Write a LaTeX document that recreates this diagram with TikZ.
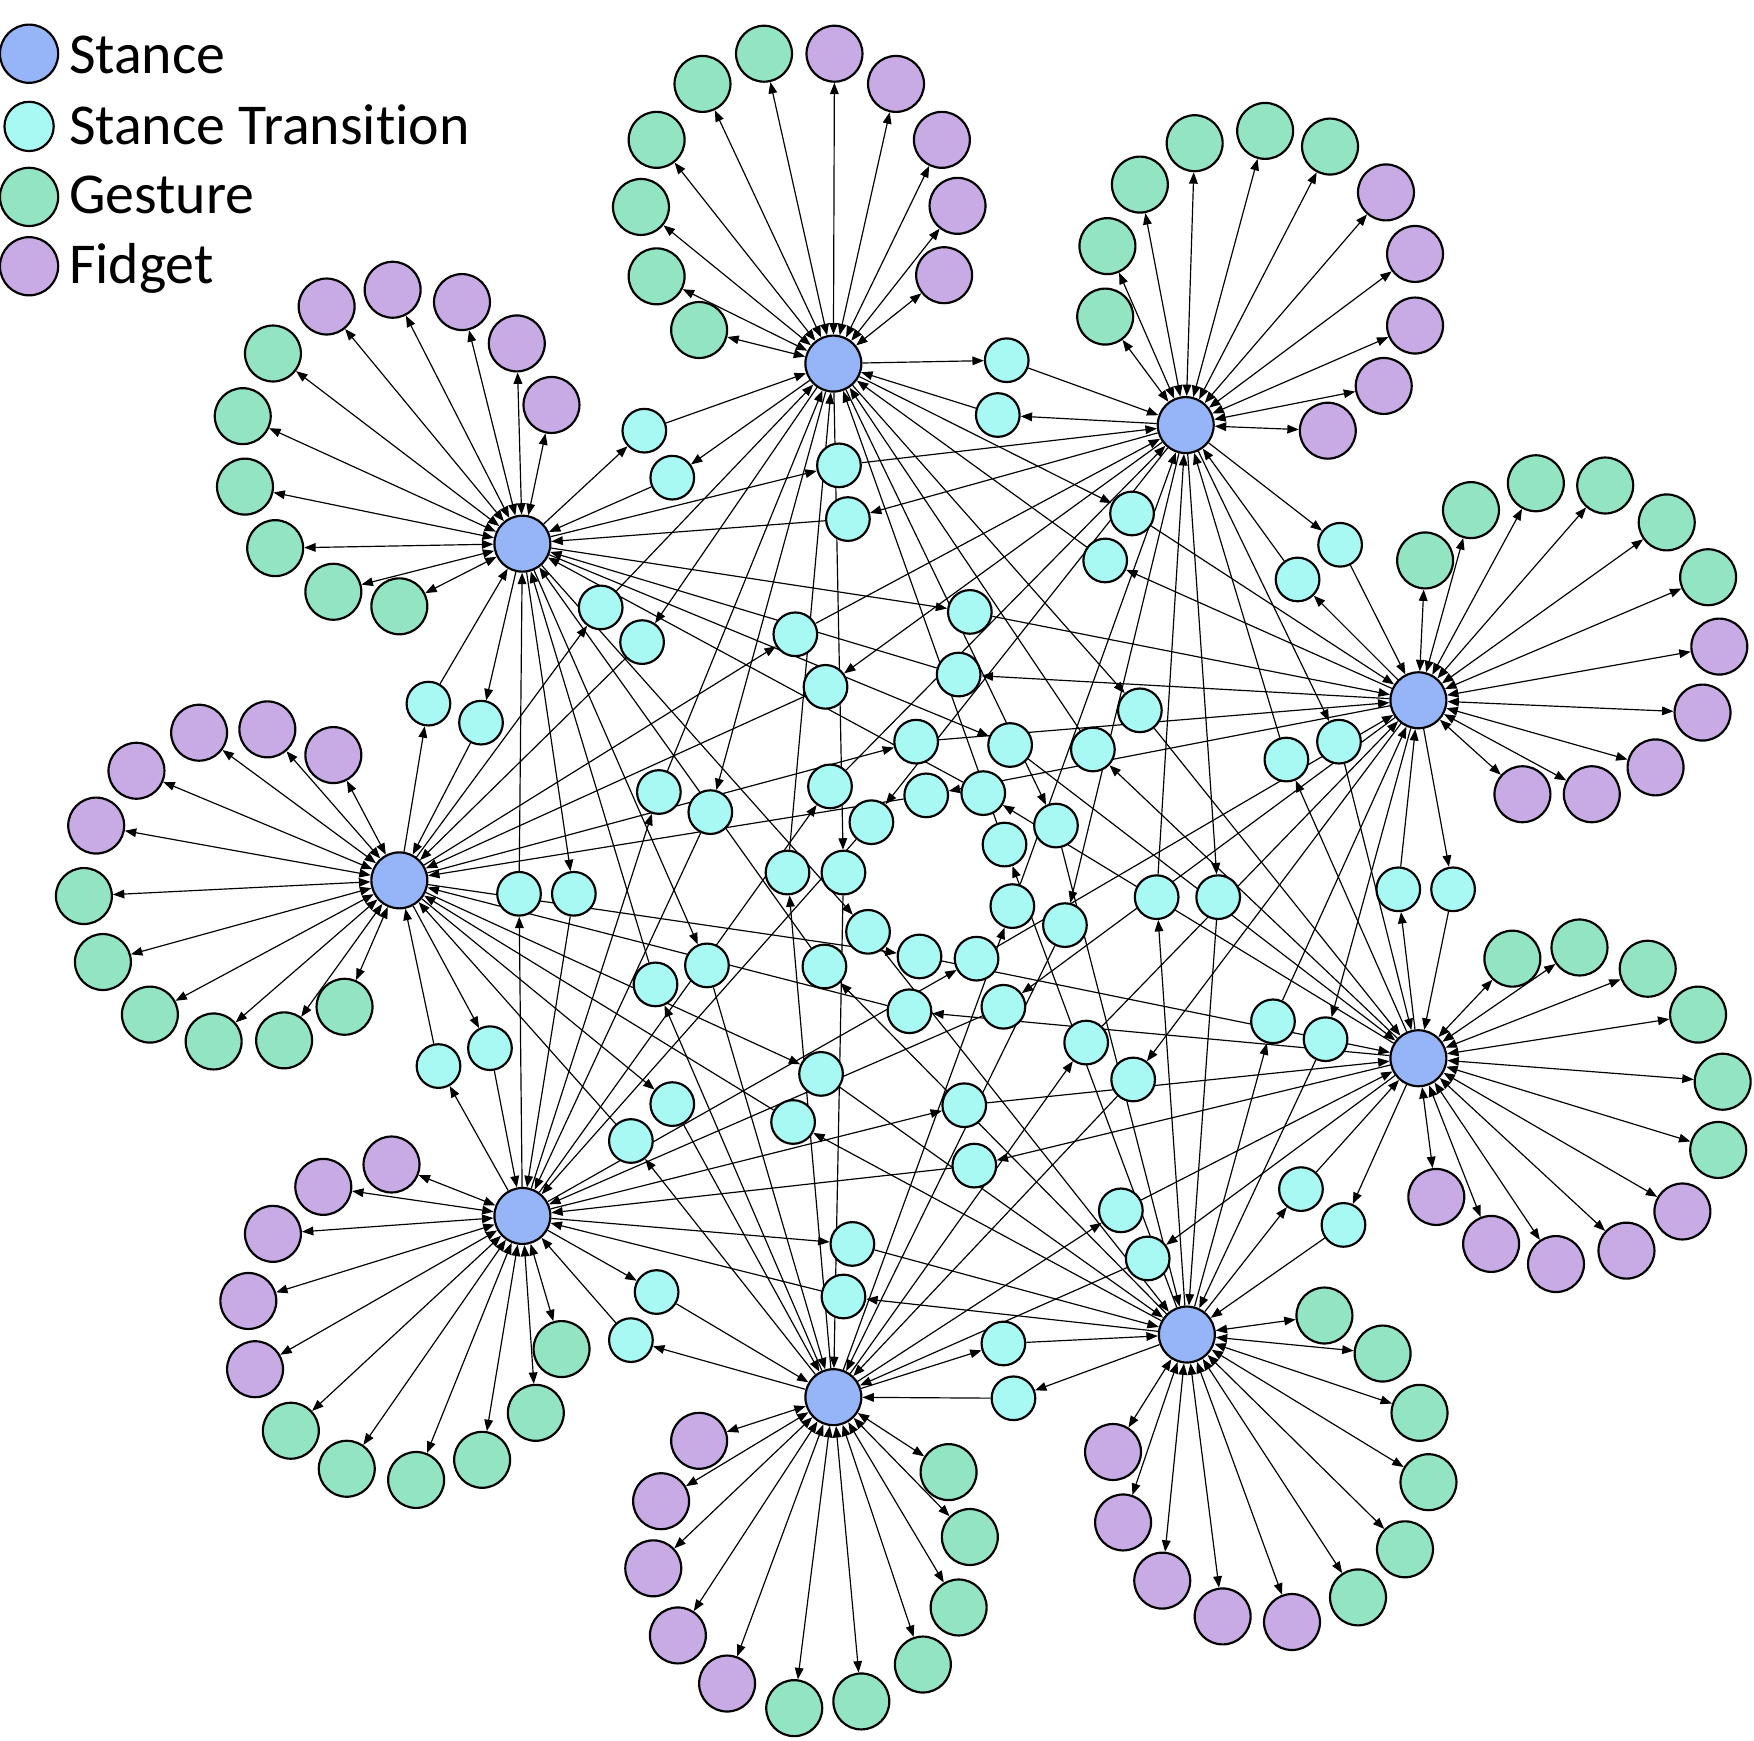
\documentclass[tikz,border=0pt]{standalone}
\usepackage{fontspec}
\setmainfont{Carlito}[Ligatures=NoCommon]
\usetikzlibrary{arrows.meta}
\definecolor{stanceblue}{HTML}{96B4F8}
\definecolor{transcyan}{HTML}{A8F8F3}
\definecolor{gesturegreen}{HTML}{92E4C2}
\definecolor{fidgetpurple}{HTML}{C8ABE5}
\pgfdeclarelayer{edgelayer}
\pgfsetlayers{edgelayer,main}
\tikzset{
stancevertex/.style={circle, draw=black!100,fill=stanceblue,line width=0.55pt, inner sep=0pt, minimum size= 5mm},
transvertex/.style={circle, draw=black!100,fill=transcyan,line width=0.55pt, inner sep=0pt, minimum size= 3.9mm},
gesturevertex/.style={circle, draw=black!100,fill=gesturegreen,line width=0.55pt, inner sep=0pt, minimum size= 5mm},
fidgetvertex/.style={circle, draw=black!100,fill=fidgetpurple,line width=0.55pt, inner sep=0pt, minimum size= 5mm},
leafedge/.style={line width=0.3pt, {Triangle[length=2.9pt,width=2.2pt]}-{Triangle[length=2.9pt,width=2.2pt]}},
transedge/.style={line width=0.3pt, -{Triangle[length=2.9pt,width=2.2pt]}},
legendtext/.style={anchor=base west, inner sep=0pt, font=\fontsize{14.7}{18}\selectfont},
}

\begin{document}
\begin{tikzpicture}[x=0.01cm,y=-0.01cm]
    \useasboundingbox (0,0) rectangle (1568,1556);
    % legend
    \node[stancevertex, minimum size=5.2mm] (legstance) at (26,48) {};
    \node[transvertex, minimum size=4.4mm] (legtrans) at (26,113) {};
    \node[gesturevertex, minimum size=5.2mm] (leggesture) at (26,176) {};
    \node[fidgetvertex, minimum size=5.2mm] (legfidget) at (26,238) {};
    \node[legendtext] (legstancetext) at (61,66) {Stance};
    \node[legendtext] (legtranstext) at (61,129) {Stance Transition};
    \node[legendtext] (leggesturetext) at (61,191) {Gesture};
    \node[legendtext] (legfidgettext) at (61,253) {Fidget};
    % stances
    \node[stancevertex] at (745,325) (A) {};
    \node[stancevertex] at (1060,380) (B) {};
    \node[stancevertex] at (1268,626) (C) {};
    \node[stancevertex] at (1268,946) (D) {};
    \node[stancevertex] at (1061,1193) (E) {};
    \node[stancevertex] at (745,1249) (F) {};
    \node[stancevertex] at (467,1087) (G) {};
    \node[stancevertex] at (357,787) (H) {};
    \node[stancevertex] at (467,486) (I) {};
    % gestures and fidgets
    \foreach \x/\y [count=\i] in {625/295,587/247,573/185,587/125,628/75,683/48}
      \node[gesturevertex] at (\x,\y) (A\i) {};
    \foreach \x/\y [count=\i from 7] in {746/48,801/75,842/125,856/184,844/246}
      \node[fidgetvertex] at (\x,\y) (A\i) {};
    \foreach \x/\y [count=\i] in {988/283,990/220,1019/165,1068/128,1131/117,1189/131}
      \node[gesturevertex] at (\x,\y) (B\i) {};
    \foreach \x/\y [count=\i from 7] in {1239/172,1265/227,1265/291,1237/345,1187/385}
      \node[fidgetvertex] at (\x,\y) (B\i) {};
    \foreach \x/\y [count=\i] in {1274/501,1315/456,1373/432,1435/434,1490/467,1527/516}
      \node[gesturevertex] at (\x,\y) (C\i) {};
    \foreach \x/\y [count=\i from 7] in {1537/578,1522/637,1480/686,1423/710,1361/710}
      \node[fidgetvertex] at (\x,\y) (C\i) {};
    \foreach \x/\y [count=\i] in {1352/857,1412/847,1473/866,1518/907,1540/967,1536/1028}
      \node[gesturevertex] at (\x,\y) (D\i) {};
    \foreach \x/\y [count=\i from 7] in {1504/1083,1454/1118,1391/1130,1333/1112,1284/1070}
      \node[fidgetvertex] at (\x,\y) (D\i) {};
    \foreach \x/\y [count=\i] in {1184/1176,1236/1210,1269/1263,1277/1325,1256/1385,1214/1428}
      \node[gesturevertex] at (\x,\y) (E\i) {};
    \foreach \x/\y [count=\i from 7] in {1155/1450,1093/1445,1039/1413,1004/1361,995/1298}
      \node[fidgetvertex] at (\x,\y) (E\i) {};
    \foreach \x/\y [count=\i] in {710/1527,770/1521,825/1488,857/1437,867/1374,848/1316}
      \node[gesturevertex] at (\x,\y) (F\i) {};
    \foreach \x/\y [count=\i from 7] in {625/1288,591/1342,584/1402,606/1462,650/1505}
      \node[fidgetvertex] at (\x,\y) (F\i) {};
    \foreach \x/\y [count=\i] in {260/1279,310/1313,372/1323,431/1305,479/1263,502/1206}
      \node[gesturevertex] at (\x,\y) (G\i) {};
    \foreach \x/\y [count=\i from 7] in {350/1041,289/1061,244/1103,222/1163,228/1224}
      \node[fidgetvertex] at (\x,\y) (G\i) {};
    \foreach \x/\y [count=\i] in {75/801,92/860,134/907,191/931,254/930,308/900}
      \node[gesturevertex] at (\x,\y) (H\i) {};
    \foreach \x/\y [count=\i from 7] in {298/675,239/652,178/655,122/689,86/738}
      \node[fidgetvertex] at (\x,\y) (H\i) {};
    \foreach \x/\y [count=\i] in {244/316,217/372,219/435,246/490,298/529,357/542}
      \node[gesturevertex] at (\x,\y) (I\i) {};
    \foreach \x/\y [count=\i from 7] in {292/274,351/259,413/270,462/307,493/362}
      \node[fidgetvertex] at (\x,\y) (I\i) {};
    \begin{pgfonlayer}{edgelayer}
    \foreach \s in {A,B,C,D,E,F,G,H,I}
      \foreach \i in {1,...,11}
        \draw[leafedge] (\s) to (\s\i);
    \end{pgfonlayer}
    % stance transitions
    \foreach \s/\t/\x/\y in {A/B/900/322, B/A/892/371, B/C/1198/487, C/B/1160/518,
      C/D/1299/795, D/C/1250/795, D/E/1201/1095, E/D/1163/1063,
      E/F/906/1250, F/E/897/1201, F/G/564/1198, G/F/587/1155,
      G/H/392/953, H/G/438/937, H/I/383/629, I/H/430/646,
      I/A/576/385, A/I/601/427, A/C/1012/459, C/A/988/501,
      B/D/1197/663, D/B/1150/679, C/E/1185/929, E/C/1138/913,
      D/F/1026/1125, F/D/1002/1082, E/G/754/1159, G/E/762/1112,
      F/H/564/1020, H/F/601/987, G/I/464/799, I/G/513/799,
      H/A/537/543, A/H/574/574, I/B/750/416, B/I/758/464,
      A/D/1019/635, D/A/977/670, B/E/1089/802, E/B/1034/802,
      C/F/1013/965, F/C/971/932, D/G/871/1042, G/D/862/988,
      E/H/709/1003, H/E/734/960, F/I/586/880, I/F/632/863,
      G/A/589/708, A/G/635/726, H/B/711/567, B/H/738/614,
      I/C/867/547, C/I/857/603, A/E/944/738, E/A/898/755,
      B/F/952/827, F/B/905/810, C/G/897/900, G/C/873/857,
      D/H/813/904, H/D/822/855, E/I/737/864, I/E/776/833,
      F/A/704/780, A/F/754/780, G/B/742/703, B/G/779/735,
      H/C/819/663, C/H/828/711, I/D/903/666, D/I/879/709}
    {
      \node[transvertex] at (\x,\y) (T\s\t) {};
      \begin{pgfonlayer}{edgelayer}
      \draw[transedge] (\s) to (T\s\t);
      \draw[transedge] (T\s\t) to (\t);
      \end{pgfonlayer}
    }
\end{tikzpicture}
\end{document}
